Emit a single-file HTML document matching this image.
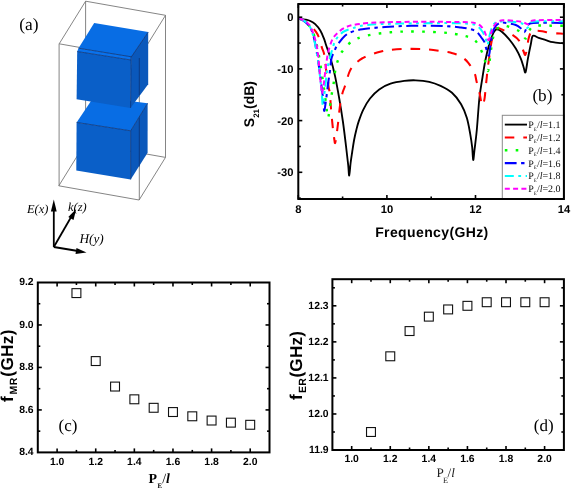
<!DOCTYPE html>
<html><head><meta charset="utf-8">
<style>
html,body{margin:0;padding:0;background:#fff;}
body{width:571px;height:489px;overflow:hidden;}
svg{display:block;will-change:transform;text-rendering:geometricPrecision;}
.sans{font-family:"Liberation Sans",sans-serif;font-weight:bold;}
.serif{font-family:"Liberation Serif",serif;}
.lg{font-family:"Liberation Serif",serif;font-size:10px;fill:#111;}
.sub{font-size:5px;}
</style></head>
<body>
<svg width="571" height="489" viewBox="0 0 571 489">
<rect width="571" height="489" fill="#fff"/>
<!-- Panel a -->
<g id="pa">
  <text x="19.2" y="30" class="serif" font-size="17.4">(a)</text>
  <!-- frame (all edges, drawn behind cubes) -->
  <g stroke="#777" stroke-width="0.9" fill="none">
    <polyline points="59.2,43.8 85.6,1.2 165.5,15.3 139.1,57.9 59.2,43.8"/>
    <line x1="85.6" y1="1.2" x2="85.6" y2="143.2"/>
    <polyline points="58.8,185.8 85.2,143.2 165.5,157.4 139.1,200 58.8,185.8"/>
    <line x1="165.5" y1="15.3" x2="165.5" y2="157.4"/>
    <line x1="59.1" y1="43.8" x2="59.1" y2="185.8"/>
    <line x1="139.3" y1="57.9" x2="139.3" y2="200"/>
  </g>
  <!-- bottom cube -->
  <polygon points="94,96.4 147.6,103.3 130.7,130.8 76.6,122.4" fill="#086de4"/>
  <polygon points="130.7,130.8 147.6,103.3 147.6,152.8 130.7,179.4" fill="#0a58bb"/>
  <polygon points="76.6,122.4 130.7,130.8 130.7,179.4 76.3,170.4" fill="#0a5fc8"/>
  <!-- top cube -->
  <polygon points="94.2,22.9 148.2,32.1 131.4,56.8 78.5,48.2" fill="#086de4"/>
  <polygon points="78.5,48.2 131.4,56.8 131,60 77.2,51.5" fill="#0a72ec"/>
  <polygon points="131.2,56.8 148.2,32.1 148.2,84.3 130.5,107.9" fill="#0a58bb"/>
  <polygon points="77.2,51.5 131,60 130.5,107.9 76.6,99.2" fill="#0a5fc8"/>
  <g stroke="#0a3478" stroke-width="0.8" fill="none">
    <line x1="78.5" y1="48.2" x2="131.4" y2="56.8"/>
    <line x1="77.2" y1="51.5" x2="131" y2="60"/>
    <line x1="131.1" y1="56.8" x2="130.6" y2="107.9"/>
    <line x1="131.4" y1="56.8" x2="148.2" y2="32.1"/>
    <line x1="76.6" y1="122.4" x2="130.7" y2="130.8"/>
    <line x1="130.7" y1="130.8" x2="147.6" y2="103.3"/>
    <line x1="130.7" y1="130.8" x2="130.7" y2="179.4"/>
    <line x1="139.3" y1="58" x2="139.3" y2="95"/>
    <line x1="139.3" y1="117.5" x2="139.3" y2="166.5"/>
  </g>
  <!-- axes arrows -->
  <g stroke="#000" stroke-width="1.8" fill="none">
    <line x1="53.8" y1="247" x2="53.8" y2="208"/>
    <line x1="53.8" y1="247" x2="72" y2="215.5"/>
    <line x1="53.8" y1="247" x2="78" y2="251"/>
  </g>
  <polygon points="53.8,199.6 50.9,211.5 56.7,211.5" fill="#000"/>
  <polygon points="76.2,209 68.3,217 73.5,220" fill="#000"/>
  <polygon points="86.5,252.6 76.5,248 75.5,254" fill="#000"/>
  <text x="27" y="213" class="serif" font-style="italic" font-size="12.4">E(x)</text>
  <text x="68" y="211.2" class="serif" font-style="italic" font-size="12.4">k(z)</text>
  <text x="79.4" y="242.8" class="serif" font-style="italic" font-size="13.3">H(y)</text>
</g>

<!-- Panel b -->
<g id="pb">
  <defs><clipPath id="cb"><rect x="299.3" y="4.8" width="263.6" height="192.8"/></clipPath></defs>
  <g clip-path="url(#cb)">
<path d="M299.00,18.60 C300.07,18.77 303.52,19.20 305.40,19.60 C307.28,20.00 308.67,20.25 310.30,21.00 C311.93,21.75 313.53,22.52 315.20,24.10 C316.87,25.68 318.87,28.15 320.30,30.50 C321.73,32.85 322.80,35.65 323.80,38.20 C324.80,40.75 325.15,42.38 326.30,45.80 C327.45,49.22 329.25,53.68 330.70,58.70 C332.15,63.72 333.57,69.20 335.00,75.90 C336.43,82.60 337.98,91.30 339.30,98.90 C340.62,106.50 341.78,113.65 342.90,121.50 C344.02,129.35 345.12,138.75 346.00,146.00 C346.88,153.25 347.67,160.07 348.20,165.00 C348.73,169.93 348.80,175.93 349.20,175.60 C349.60,175.27 350.10,166.93 350.60,163.00 C351.10,159.07 351.62,155.83 352.20,152.00 C352.78,148.17 353.42,143.67 354.10,140.00 C354.78,136.33 355.53,133.10 356.30,130.00 C357.07,126.90 357.55,124.77 358.70,121.40 C359.85,118.03 361.32,113.62 363.20,109.80 C365.08,105.98 367.33,101.90 370.00,98.50 C372.67,95.10 375.78,91.87 379.20,89.40 C382.62,86.93 386.33,85.12 390.50,83.70 C394.67,82.28 400.02,81.47 404.20,80.90 C408.38,80.33 411.43,80.15 415.60,80.30 C419.77,80.45 425.03,80.87 429.20,81.80 C433.37,82.73 436.80,84.07 440.60,85.90 C444.40,87.73 448.58,89.75 452.00,92.80 C455.42,95.85 458.63,100.03 461.10,104.20 C463.57,108.37 465.28,112.87 466.80,117.80 C468.32,122.73 469.30,128.87 470.20,133.80 C471.10,138.73 471.70,143.03 472.20,147.40 C472.70,151.77 472.82,159.57 473.20,160.00 C473.58,160.43 473.90,155.00 474.50,150.00 C475.10,145.00 475.98,138.67 476.80,130.00 C477.62,121.33 478.50,106.47 479.40,98.00 C480.30,89.53 481.22,85.42 482.20,79.20 C483.18,72.98 484.13,66.52 485.30,60.70 C486.47,54.88 488.03,48.50 489.20,44.30 C490.37,40.10 491.37,37.75 492.30,35.50 C493.23,33.25 494.02,31.82 494.80,30.80 C495.58,29.78 495.88,29.28 497.00,29.40 C498.12,29.52 499.57,29.97 501.50,31.50 C503.43,33.03 506.22,35.75 508.60,38.60 C510.98,41.45 513.77,45.25 515.80,48.60 C517.83,51.95 519.50,55.60 520.80,58.70 C522.10,61.80 522.82,64.93 523.60,67.20 C524.38,69.47 524.78,73.72 525.50,72.30 C526.22,70.88 527.02,63.37 527.90,58.70 C528.78,54.03 529.97,48.12 530.80,44.30 C531.63,40.48 531.58,36.87 532.90,35.80 C534.22,34.73 536.55,37.18 538.70,37.90 C540.85,38.62 543.42,39.38 545.80,40.10 C548.18,40.82 550.37,41.68 553.00,42.20 C555.63,42.72 559.85,43.02 561.60,43.20 C563.35,43.38 563.18,43.28 563.50,43.30" fill="none" stroke="#000" stroke-width="1.85" stroke-linejoin="round"/>
<path d="M299.00,18.60 C299.67,18.83 301.53,19.18 303.00,20.00 C304.47,20.82 306.30,22.33 307.80,23.50 C309.30,24.67 310.70,25.68 312.00,27.00 C313.30,28.32 314.52,29.82 315.60,31.40 C316.68,32.98 317.43,33.75 318.50,36.50 C319.57,39.25 321.05,44.92 322.00,47.90 C322.95,50.88 323.48,50.57 324.20,54.40 C324.92,58.23 325.70,67.55 326.30,70.90 C326.90,74.25 327.43,71.87 327.80,74.50 C328.17,77.13 328.15,83.60 328.50,86.70 C328.85,89.80 329.52,89.88 329.90,93.10 C330.28,96.32 330.42,101.25 330.80,106.00 C331.18,110.75 331.80,117.43 332.20,121.60 C332.60,125.77 332.87,128.18 333.20,131.00 C333.53,133.82 333.88,136.48 334.20,138.50 C334.52,140.52 334.73,143.52 335.10,143.10 C335.47,142.68 335.92,139.27 336.40,136.00 C336.88,132.73 337.38,128.70 338.00,123.50 C338.62,118.30 339.35,109.88 340.10,104.80 C340.85,99.72 341.80,95.80 342.50,93.00 C343.20,90.20 343.65,89.90 344.30,88.00 C344.95,86.10 345.62,84.10 346.40,81.60 C347.18,79.10 348.07,75.43 349.00,73.00 C349.93,70.57 350.95,68.58 352.00,67.00 C353.05,65.42 353.63,64.92 355.30,63.50 C356.97,62.08 359.38,59.97 362.00,58.50 C364.62,57.03 368.00,55.82 371.00,54.70 C374.00,53.58 376.78,52.60 380.00,51.80 C383.22,51.00 385.67,50.38 390.30,49.90 C394.93,49.42 401.68,48.98 407.80,48.90 C413.92,48.82 420.87,48.93 427.00,49.40 C433.13,49.87 440.60,51.13 444.60,51.70 C448.60,52.27 448.28,52.02 451.00,52.80 C453.72,53.58 458.02,54.73 460.90,56.40 C463.78,58.07 466.03,60.03 468.30,62.80 C470.57,65.57 473.13,69.93 474.50,73.00 C475.87,76.07 475.65,77.78 476.50,81.20 C477.35,84.62 478.88,90.37 479.60,93.50 C480.32,96.63 480.43,98.00 480.80,100.00 C481.17,102.00 481.35,105.00 481.80,105.50 C482.25,106.00 483.02,104.32 483.50,103.00 C483.98,101.68 484.33,100.20 484.70,97.60 C485.07,95.00 485.35,90.83 485.70,87.40 C486.05,83.97 486.45,80.40 486.80,77.00 C487.15,73.60 487.47,69.72 487.80,67.00 C488.13,64.28 488.35,63.87 488.80,60.70 C489.25,57.53 489.88,51.95 490.50,48.00 C491.12,44.05 491.83,39.83 492.50,37.00 C493.17,34.17 493.72,32.50 494.50,31.00 C495.28,29.50 495.78,28.17 497.20,28.00 C498.62,27.83 500.62,28.95 503.00,30.00 C505.38,31.05 508.78,32.50 511.50,34.30 C514.22,36.10 517.28,37.93 519.30,40.80 C521.32,43.67 522.62,49.13 523.60,51.50 C524.58,53.87 524.67,55.25 525.20,55.00 C525.73,54.75 526.23,52.73 526.80,50.00 C527.37,47.27 527.82,41.68 528.60,38.60 C529.38,35.52 530.27,32.80 531.50,31.50 C532.73,30.20 534.22,30.83 536.00,30.80 C537.78,30.77 539.85,30.95 542.20,31.30 C544.55,31.65 547.12,32.52 550.10,32.90 C553.08,33.28 557.87,33.47 560.10,33.60 C562.33,33.73 562.93,33.68 563.50,33.70" fill="none" stroke="#f00" stroke-width="2.05" stroke-dasharray="9.5 9" stroke-linejoin="round"/>
<path d="M299.00,18.60 C299.67,18.92 301.50,19.52 303.00,20.50 C304.50,21.48 306.50,22.92 308.00,24.50 C309.50,26.08 310.83,27.75 312.00,30.00 C313.17,32.25 314.08,35.00 315.00,38.00 C315.92,41.00 316.67,44.00 317.50,48.00 C318.33,52.00 319.17,57.00 320.00,62.00 C320.83,67.00 321.75,73.00 322.50,78.00 C323.25,83.00 323.87,87.33 324.50,92.00 C325.13,96.67 325.73,101.67 326.30,106.00 C326.87,110.33 327.37,117.33 327.90,118.00 C328.43,118.67 328.92,113.67 329.50,110.00 C330.08,106.33 330.73,100.25 331.40,96.00 C332.07,91.75 332.90,88.50 333.50,84.50 C334.10,80.50 334.37,75.73 335.00,72.00 C335.63,68.27 336.10,65.52 337.30,62.10 C338.50,58.68 339.78,54.93 342.20,51.50 C344.62,48.07 348.17,44.03 351.80,41.50 C355.43,38.97 358.47,37.75 364.00,36.30 C369.53,34.85 377.70,33.60 385.00,32.80 C392.30,32.00 398.47,31.57 407.80,31.50 C417.13,31.43 431.75,31.72 441.00,32.40 C450.25,33.08 457.63,34.25 463.30,35.60 C468.97,36.95 471.93,37.85 475.00,40.50 C478.07,43.15 480.03,48.08 481.70,51.50 C483.37,54.92 483.98,57.75 485.00,61.00 C486.02,64.25 487.05,70.83 487.80,71.00 C488.55,71.17 488.97,65.50 489.50,62.00 C490.03,58.50 490.42,54.00 491.00,50.00 C491.58,46.00 492.17,41.33 493.00,38.00 C493.83,34.67 494.83,31.83 496.00,30.00 C497.17,28.17 498.62,27.72 500.00,27.00 C501.38,26.28 502.47,25.62 504.30,25.70 C506.13,25.78 508.62,26.65 511.00,27.50 C513.38,28.35 516.68,29.72 518.60,30.80 C520.52,31.88 521.30,32.70 522.50,34.00 C523.70,35.30 524.72,39.10 525.80,38.60 C526.88,38.10 527.82,33.02 529.00,31.00 C530.18,28.98 531.05,27.42 532.90,26.50 C534.75,25.58 537.00,25.63 540.10,25.50 C543.20,25.37 547.60,25.67 551.50,25.70 C555.40,25.73 561.50,25.70 563.50,25.70" fill="none" stroke="#0f0" stroke-width="2.4" stroke-dasharray="2.6 8.3" stroke-linejoin="round"/>
<path d="M299.00,18.60 C299.67,18.92 301.50,19.52 303.00,20.50 C304.50,21.48 306.58,22.92 308.00,24.50 C309.42,26.08 310.50,27.75 311.50,30.00 C312.50,32.25 313.25,35.00 314.00,38.00 C314.75,41.00 315.33,44.33 316.00,48.00 C316.67,51.67 317.33,55.67 318.00,60.00 C318.67,64.33 319.33,69.00 320.00,74.00 C320.67,79.00 321.42,85.33 322.00,90.00 C322.58,94.67 323.12,98.53 323.50,102.00 C323.88,105.47 323.83,111.47 324.30,110.80 C324.77,110.13 325.63,102.80 326.30,98.00 C326.97,93.20 327.70,86.40 328.30,82.00 C328.90,77.60 329.38,75.48 329.90,71.60 C330.42,67.72 330.68,62.05 331.40,58.70 C332.12,55.35 333.13,53.90 334.20,51.50 C335.27,49.10 336.00,46.93 337.80,44.30 C339.60,41.67 342.67,37.77 345.00,35.70 C347.33,33.63 348.92,32.97 351.80,31.90 C354.68,30.83 356.77,30.12 362.30,29.30 C367.83,28.48 376.83,27.58 385.00,27.00 C393.17,26.42 401.37,25.95 411.30,25.80 C421.23,25.65 436.32,25.82 444.60,26.10 C452.88,26.38 456.77,27.02 461.00,27.50 C465.23,27.98 467.37,28.27 470.00,29.00 C472.63,29.73 474.85,30.40 476.80,31.90 C478.75,33.40 480.47,36.37 481.70,38.00 C482.93,39.63 483.48,40.05 484.20,41.70 C484.92,43.35 485.23,45.58 486.00,47.90 C486.77,50.22 488.05,56.08 488.80,55.60 C489.55,55.12 489.88,48.77 490.50,45.00 C491.12,41.23 491.75,36.00 492.50,33.00 C493.25,30.00 494.08,28.50 495.00,27.00 C495.92,25.50 496.92,24.73 498.00,24.00 C499.08,23.27 499.83,22.73 501.50,22.60 C503.17,22.47 505.62,22.80 508.00,23.20 C510.38,23.60 513.72,24.20 515.80,25.00 C517.88,25.80 519.08,26.80 520.50,28.00 C521.92,29.20 523.22,32.37 524.30,32.20 C525.38,32.03 526.03,28.43 527.00,27.00 C527.97,25.57 527.93,24.30 530.10,23.60 C532.27,22.90 534.75,22.92 540.00,22.80 C545.25,22.68 557.68,22.88 561.60,22.90 C565.52,22.92 563.18,22.90 563.50,22.90" fill="none" stroke="#00f" stroke-width="2.05" stroke-dasharray="11.8 4.5 3.4 4.5" stroke-linejoin="round"/>
<path d="M299.00,18.60 C299.67,18.83 301.50,19.10 303.00,20.00 C304.50,20.90 306.67,22.50 308.00,24.00 C309.33,25.50 310.08,26.83 311.00,29.00 C311.92,31.17 312.75,34.17 313.50,37.00 C314.25,39.83 314.83,42.67 315.50,46.00 C316.17,49.33 316.83,52.67 317.50,57.00 C318.17,61.33 318.83,66.50 319.50,72.00 C320.17,77.50 320.93,84.48 321.50,90.00 C322.07,95.52 322.32,105.43 322.90,105.10 C323.48,104.77 324.32,93.52 325.00,88.00 C325.68,82.48 326.30,76.65 327.00,72.00 C327.70,67.35 328.35,63.75 329.20,60.10 C330.05,56.45 331.02,53.45 332.10,50.10 C333.18,46.75 333.92,42.98 335.70,40.00 C337.48,37.02 340.08,34.13 342.80,32.20 C345.52,30.27 347.88,29.62 352.00,28.40 C356.12,27.18 359.50,25.70 367.50,24.90 C375.50,24.10 386.58,23.90 400.00,23.60 C413.42,23.30 436.33,23.05 448.00,23.10 C459.67,23.15 465.17,23.42 470.00,23.90 C474.83,24.38 475.00,24.82 477.00,26.00 C479.00,27.18 480.58,29.00 482.00,31.00 C483.42,33.00 484.58,35.67 485.50,38.00 C486.42,40.33 486.83,45.33 487.50,45.00 C488.17,44.67 488.75,38.92 489.50,36.00 C490.25,33.08 491.08,29.67 492.00,27.50 C492.92,25.33 493.67,24.00 495.00,23.00 C496.33,22.00 497.17,21.70 500.00,21.50 C502.83,21.30 508.33,21.47 512.00,21.80 C515.67,22.13 519.47,22.48 522.00,23.50 C524.53,24.52 525.87,27.90 527.20,27.90 C528.53,27.90 528.70,24.57 530.00,23.50 C531.30,22.43 529.73,21.88 535.00,21.50 C540.27,21.12 556.85,21.25 561.60,21.20 C566.35,21.15 563.18,21.20 563.50,21.20" fill="none" stroke="#0ff" stroke-width="2.05" stroke-dasharray="9 4.5 2.8 4.5 2.8 4.5" stroke-linejoin="round"/>
<path d="M299.00,18.60 C299.65,18.80 301.57,19.15 302.90,19.80 C304.23,20.45 305.77,21.47 307.00,22.50 C308.23,23.53 309.35,24.42 310.30,26.00 C311.25,27.58 312.05,30.33 312.70,32.00 C313.35,33.67 313.68,34.33 314.20,36.00 C314.72,37.67 315.22,39.42 315.80,42.00 C316.38,44.58 317.13,47.28 317.70,51.50 C318.27,55.72 318.75,62.55 319.20,67.30 C319.65,72.05 320.05,76.55 320.40,80.00 C320.75,83.45 321.05,85.73 321.30,88.00 C321.55,90.27 321.53,93.93 321.90,93.60 C322.27,93.27 323.00,89.18 323.50,86.00 C324.00,82.82 324.40,78.50 324.90,74.50 C325.40,70.50 325.90,65.95 326.50,62.00 C327.10,58.05 327.45,54.70 328.50,50.80 C329.55,46.90 331.00,41.83 332.80,38.60 C334.60,35.37 337.12,33.30 339.30,31.40 C341.48,29.50 343.53,28.28 345.90,27.20 C348.27,26.12 349.90,25.58 353.50,24.90 C357.10,24.22 362.25,23.53 367.50,23.10 C372.75,22.67 376.25,22.53 385.00,22.30 C393.75,22.07 409.50,21.77 420.00,21.70 C430.50,21.63 439.67,21.80 448.00,21.90 C456.33,22.00 465.33,22.03 470.00,22.30 C474.67,22.57 474.25,22.92 476.00,23.50 C477.75,24.08 479.13,24.60 480.50,25.80 C481.87,27.00 483.18,28.87 484.20,30.70 C485.22,32.53 485.83,35.25 486.60,36.80 C487.37,38.35 488.10,40.47 488.80,40.00 C489.50,39.53 490.13,35.97 490.80,34.00 C491.47,32.03 491.87,30.08 492.80,28.20 C493.73,26.32 494.72,24.02 496.40,22.70 C498.08,21.38 499.80,20.58 502.90,20.30 C506.00,20.02 511.67,20.68 515.00,21.00 C518.33,21.32 520.75,21.65 522.90,22.20 C525.05,22.75 526.55,24.42 527.90,24.30 C529.25,24.18 529.82,22.17 531.00,21.50 C532.18,20.83 529.90,20.55 535.00,20.30 C540.10,20.05 556.85,20.05 561.60,20.00 C566.35,19.95 563.18,20.00 563.50,20.00" fill="none" stroke="#f0f" stroke-width="2.0" stroke-dasharray="5 3.3" stroke-linejoin="round"/>

  </g>
  <g stroke="#000" stroke-width="1.6"><line x1="298.30" y1="199.00" x2="298.30" y2="195.00"/><line x1="298.30" y1="4.00" x2="298.30" y2="8.00"/><line x1="342.60" y1="199.00" x2="342.60" y2="196.50"/><line x1="342.60" y1="4.00" x2="342.60" y2="6.50"/><line x1="386.90" y1="199.00" x2="386.90" y2="195.00"/><line x1="386.90" y1="4.00" x2="386.90" y2="8.00"/><line x1="431.20" y1="199.00" x2="431.20" y2="196.50"/><line x1="431.20" y1="4.00" x2="431.20" y2="6.50"/><line x1="475.50" y1="199.00" x2="475.50" y2="195.00"/><line x1="475.50" y1="4.00" x2="475.50" y2="8.00"/><line x1="519.80" y1="199.00" x2="519.80" y2="196.50"/><line x1="519.80" y1="4.00" x2="519.80" y2="6.50"/><line x1="564.10" y1="199.00" x2="564.10" y2="195.00"/><line x1="564.10" y1="4.00" x2="564.10" y2="8.00"/><line x1="298.30" y1="17.20" x2="302.30" y2="17.20"/><line x1="563.90" y1="17.20" x2="559.90" y2="17.20"/><line x1="298.30" y1="43.05" x2="300.80" y2="43.05"/><line x1="563.90" y1="43.05" x2="561.40" y2="43.05"/><line x1="298.30" y1="68.90" x2="302.30" y2="68.90"/><line x1="563.90" y1="68.90" x2="559.90" y2="68.90"/><line x1="298.30" y1="94.75" x2="300.80" y2="94.75"/><line x1="563.90" y1="94.75" x2="561.40" y2="94.75"/><line x1="298.30" y1="120.60" x2="302.30" y2="120.60"/><line x1="563.90" y1="120.60" x2="559.90" y2="120.60"/><line x1="298.30" y1="146.45" x2="300.80" y2="146.45"/><line x1="563.90" y1="146.45" x2="561.40" y2="146.45"/><line x1="298.30" y1="172.30" x2="302.30" y2="172.30"/><line x1="563.90" y1="172.30" x2="559.90" y2="172.30"/><line x1="298.30" y1="198.15" x2="300.80" y2="198.15"/><line x1="563.90" y1="198.15" x2="561.40" y2="198.15"/></g>
  <rect x="502.3" y="115.3" width="62" height="84" fill="#fff" stroke="#8a8a8a" stroke-width="1"/><line x1="504.8" y1="124.60" x2="527" y2="124.60" fill="none" stroke="#000" stroke-width="1.85"/><text x="528.3" y="128.00" class="lg">P<tspan class="sub" dy="2.6">E</tspan><tspan dy="-2.6">/</tspan><tspan font-style="italic">l</tspan>=1.1</text><line x1="504.8" y1="137.40" x2="527" y2="137.40" fill="none" stroke="#f00" stroke-width="2.05" stroke-dasharray="9.5 9"/><text x="528.3" y="140.80" class="lg">P<tspan class="sub" dy="2.6">E</tspan><tspan dy="-2.6">/</tspan><tspan font-style="italic">l</tspan>=1.2</text><line x1="504.8" y1="150.30" x2="519" y2="150.30" fill="none" stroke="#0f0" stroke-width="2.4" stroke-dasharray="2.6 8.3"/><text x="528.3" y="153.70" class="lg">P<tspan class="sub" dy="2.6">E</tspan><tspan dy="-2.6">/</tspan><tspan font-style="italic">l</tspan>=1.4</text><line x1="504.8" y1="163.10" x2="527" y2="163.10" fill="none" stroke="#00f" stroke-width="2.05" stroke-dasharray="11.8 4.5 3.4 4.5"/><text x="528.3" y="166.50" class="lg">P<tspan class="sub" dy="2.6">E</tspan><tspan dy="-2.6">/</tspan><tspan font-style="italic">l</tspan>=1.6</text><line x1="504.8" y1="175.90" x2="527" y2="175.90" fill="none" stroke="#0ff" stroke-width="2.05" stroke-dasharray="9 4.5 2.8 4.5 2.8 4.5"/><text x="528.3" y="179.30" class="lg">P<tspan class="sub" dy="2.6">E</tspan><tspan dy="-2.6">/</tspan><tspan font-style="italic">l</tspan>=1.8</text><line x1="504.8" y1="188.70" x2="527" y2="188.70" fill="none" stroke="#f0f" stroke-width="2.0" stroke-dasharray="5 3.3"/><text x="528.3" y="192.10" class="lg">P<tspan class="sub" dy="2.6">E</tspan><tspan dy="-2.6">/</tspan><tspan font-style="italic">l</tspan>=2.0</text>
  <rect x="298.3" y="4" width="265.6" height="195" fill="none" stroke="#000" stroke-width="2"/>
  <g class="sans" font-size="11.2" fill="#000"><text x="298.30" y="213.2" text-anchor="middle">8</text><text x="386.90" y="213.2" text-anchor="middle">10</text><text x="475.50" y="213.2" text-anchor="middle">12</text><text x="564.10" y="213.2" text-anchor="middle">14</text><text x="293.5" y="21.30" text-anchor="end">0</text><text x="293.5" y="73.00" text-anchor="end">-10</text><text x="293.5" y="124.70" text-anchor="end">-20</text><text x="293.5" y="176.40" text-anchor="end">-30</text></g>
  <text x="375.2" y="236.8" class="sans" font-size="14" letter-spacing="0.38">Frequency(GHz)</text>
  <text transform="translate(253.6,127.2) rotate(-90)" class="sans" font-size="14">S<tspan font-size="8" dy="5.2">21</tspan><tspan dy="-5.2">(dB)</tspan></text>
  <text x="532.4" y="101.2" class="serif" font-size="17.2">(b)</text>
</g>

<!-- Panel c -->
<g id="pc">
  <g stroke="#000" stroke-width="1.6"><line x1="57.11" y1="452.40" x2="57.11" y2="448.40"/><line x1="57.11" y1="282.48" x2="57.11" y2="286.48"/><line x1="76.42" y1="452.40" x2="76.42" y2="449.90"/><line x1="76.42" y1="282.48" x2="76.42" y2="284.98"/><line x1="95.73" y1="452.40" x2="95.73" y2="448.40"/><line x1="95.73" y1="282.48" x2="95.73" y2="286.48"/><line x1="115.04" y1="452.40" x2="115.04" y2="449.90"/><line x1="115.04" y1="282.48" x2="115.04" y2="284.98"/><line x1="134.35" y1="452.40" x2="134.35" y2="448.40"/><line x1="134.35" y1="282.48" x2="134.35" y2="286.48"/><line x1="153.66" y1="452.40" x2="153.66" y2="449.90"/><line x1="153.66" y1="282.48" x2="153.66" y2="284.98"/><line x1="172.97" y1="452.40" x2="172.97" y2="448.40"/><line x1="172.97" y1="282.48" x2="172.97" y2="286.48"/><line x1="192.28" y1="452.40" x2="192.28" y2="449.90"/><line x1="192.28" y1="282.48" x2="192.28" y2="284.98"/><line x1="211.59" y1="452.40" x2="211.59" y2="448.40"/><line x1="211.59" y1="282.48" x2="211.59" y2="286.48"/><line x1="230.90" y1="452.40" x2="230.90" y2="449.90"/><line x1="230.90" y1="282.48" x2="230.90" y2="284.98"/><line x1="250.21" y1="452.40" x2="250.21" y2="448.40"/><line x1="250.21" y1="282.48" x2="250.21" y2="286.48"/><line x1="37.80" y1="431.16" x2="40.30" y2="431.16"/><line x1="269.52" y1="431.16" x2="267.02" y2="431.16"/><line x1="37.80" y1="409.92" x2="41.80" y2="409.92"/><line x1="269.52" y1="409.92" x2="265.52" y2="409.92"/><line x1="37.80" y1="388.68" x2="40.30" y2="388.68"/><line x1="269.52" y1="388.68" x2="267.02" y2="388.68"/><line x1="37.80" y1="367.44" x2="41.80" y2="367.44"/><line x1="269.52" y1="367.44" x2="265.52" y2="367.44"/><line x1="37.80" y1="346.20" x2="40.30" y2="346.20"/><line x1="269.52" y1="346.20" x2="267.02" y2="346.20"/><line x1="37.80" y1="324.96" x2="41.80" y2="324.96"/><line x1="269.52" y1="324.96" x2="265.52" y2="324.96"/><line x1="37.80" y1="303.72" x2="40.30" y2="303.72"/><line x1="269.52" y1="303.72" x2="267.02" y2="303.72"/></g>
  <rect x="37.8" y="282.5" width="231.7" height="169.9" fill="none" stroke="#000" stroke-width="2"/>
  <g fill="none" stroke="#111" stroke-width="1.1"><rect x="71.97" y="288.65" width="8.9" height="8.9"/><rect x="91.28" y="356.62" width="8.9" height="8.9"/><rect x="110.59" y="382.11" width="8.9" height="8.9"/><rect x="129.90" y="394.85" width="8.9" height="8.9"/><rect x="149.21" y="403.35" width="8.9" height="8.9"/><rect x="168.52" y="407.59" width="8.9" height="8.9"/><rect x="187.83" y="411.84" width="8.9" height="8.9"/><rect x="207.14" y="416.09" width="8.9" height="8.9"/><rect x="226.45" y="418.21" width="8.9" height="8.9"/><rect x="245.76" y="420.34" width="8.9" height="8.9"/></g>
  <g class="sans" font-size="10.4" fill="#000"><text x="57.11" y="465" text-anchor="middle">1.0</text><text x="95.73" y="465" text-anchor="middle">1.2</text><text x="134.35" y="465" text-anchor="middle">1.4</text><text x="172.97" y="465" text-anchor="middle">1.6</text><text x="211.59" y="465" text-anchor="middle">1.8</text><text x="250.21" y="465" text-anchor="middle">2.0</text><text x="33.6" y="455.20" text-anchor="end">8.4</text><text x="33.6" y="412.72" text-anchor="end">8.6</text><text x="33.6" y="370.24" text-anchor="end">8.8</text><text x="33.6" y="327.76" text-anchor="end">9.0</text><text x="33.6" y="285.28" text-anchor="end">9.2</text></g>
  <text x="148.6" y="482.5" class="serif" font-weight="bold" font-size="13.9">P<tspan font-size="6.8" dy="5.1" dx="0.5">E</tspan><tspan dy="-5.1" font-weight="normal">/</tspan><tspan font-style="italic">l</tspan></text>
  <text transform="translate(13.4,402) rotate(-90)" class="sans" font-size="17.2" letter-spacing="0.3">f<tspan font-size="10.5" dy="4" dx="1.6">MR</tspan><tspan dy="-4" dx="0.8">(GHz)</tspan></text>
  <text x="58.5" y="430.8" class="serif" font-size="17">(c)</text>
</g>

<!-- Panel d -->
<g id="pd">
  <g stroke="#000" stroke-width="1.6"><line x1="351.69" y1="450.00" x2="351.69" y2="446.00"/><line x1="351.69" y1="279.20" x2="351.69" y2="283.20"/><line x1="370.98" y1="450.00" x2="370.98" y2="447.50"/><line x1="370.98" y1="279.20" x2="370.98" y2="281.70"/><line x1="390.27" y1="450.00" x2="390.27" y2="446.00"/><line x1="390.27" y1="279.20" x2="390.27" y2="283.20"/><line x1="409.56" y1="450.00" x2="409.56" y2="447.50"/><line x1="409.56" y1="279.20" x2="409.56" y2="281.70"/><line x1="428.85" y1="450.00" x2="428.85" y2="446.00"/><line x1="428.85" y1="279.20" x2="428.85" y2="283.20"/><line x1="448.14" y1="450.00" x2="448.14" y2="447.50"/><line x1="448.14" y1="279.20" x2="448.14" y2="281.70"/><line x1="467.43" y1="450.00" x2="467.43" y2="446.00"/><line x1="467.43" y1="279.20" x2="467.43" y2="283.20"/><line x1="486.72" y1="450.00" x2="486.72" y2="447.50"/><line x1="486.72" y1="279.20" x2="486.72" y2="281.70"/><line x1="506.01" y1="450.00" x2="506.01" y2="446.00"/><line x1="506.01" y1="279.20" x2="506.01" y2="283.20"/><line x1="525.30" y1="450.00" x2="525.30" y2="447.50"/><line x1="525.30" y1="279.20" x2="525.30" y2="281.70"/><line x1="544.59" y1="450.00" x2="544.59" y2="446.00"/><line x1="544.59" y1="279.20" x2="544.59" y2="283.20"/><line x1="332.40" y1="432.00" x2="334.90" y2="432.00"/><line x1="563.88" y1="432.00" x2="561.38" y2="432.00"/><line x1="332.40" y1="413.97" x2="336.40" y2="413.97"/><line x1="563.88" y1="413.97" x2="559.88" y2="413.97"/><line x1="332.40" y1="395.95" x2="334.90" y2="395.95"/><line x1="563.88" y1="395.95" x2="561.38" y2="395.95"/><line x1="332.40" y1="377.92" x2="336.40" y2="377.92"/><line x1="563.88" y1="377.92" x2="559.88" y2="377.92"/><line x1="332.40" y1="359.90" x2="334.90" y2="359.90"/><line x1="563.88" y1="359.90" x2="561.38" y2="359.90"/><line x1="332.40" y1="341.87" x2="336.40" y2="341.87"/><line x1="563.88" y1="341.87" x2="559.88" y2="341.87"/><line x1="332.40" y1="323.85" x2="334.90" y2="323.85"/><line x1="563.88" y1="323.85" x2="561.38" y2="323.85"/><line x1="332.40" y1="305.82" x2="336.40" y2="305.82"/><line x1="563.88" y1="305.82" x2="559.88" y2="305.82"/><line x1="332.40" y1="287.80" x2="334.90" y2="287.80"/><line x1="563.88" y1="287.80" x2="561.38" y2="287.80"/></g>
  <rect x="332.4" y="279.2" width="231.5" height="170.8" fill="none" stroke="#000" stroke-width="2"/>
  <g fill="none" stroke="#111" stroke-width="1.1"><rect x="366.53" y="427.55" width="8.9" height="8.9"/><rect x="385.82" y="351.84" width="8.9" height="8.9"/><rect x="405.11" y="326.61" width="8.9" height="8.9"/><rect x="424.40" y="312.19" width="8.9" height="8.9"/><rect x="443.69" y="304.98" width="8.9" height="8.9"/><rect x="462.98" y="301.37" width="8.9" height="8.9"/><rect x="482.27" y="297.77" width="8.9" height="8.9"/><rect x="501.56" y="297.77" width="8.9" height="8.9"/><rect x="520.85" y="297.77" width="8.9" height="8.9"/><rect x="540.14" y="297.77" width="8.9" height="8.9"/></g>
  <g class="sans" font-size="10.4" fill="#000"><text x="351.69" y="461.9" text-anchor="middle">1.0</text><text x="390.27" y="461.9" text-anchor="middle">1.2</text><text x="428.85" y="461.9" text-anchor="middle">1.4</text><text x="467.43" y="461.9" text-anchor="middle">1.6</text><text x="506.01" y="461.9" text-anchor="middle">1.8</text><text x="544.59" y="461.9" text-anchor="middle">2.0</text><text x="328.6" y="453.32" text-anchor="end">11.9</text><text x="328.6" y="417.27" text-anchor="end">12.0</text><text x="328.6" y="381.22" text-anchor="end">12.1</text><text x="328.6" y="345.18" text-anchor="end">12.2</text><text x="328.6" y="309.12" text-anchor="end">12.3</text></g>
  <text x="436.5" y="477" class="serif" font-size="13.1" fill="#222">P<tspan font-size="8.2" dy="6.3" dx="-0.9">E</tspan><tspan dy="-6.3" dx="-0.3">/</tspan><tspan font-style="italic">l</tspan></text>
  <text transform="translate(301.5,400) rotate(-90)" class="sans" font-size="17.2" letter-spacing="0.2">f<tspan font-size="10.5" dy="4" dx="1">ER</tspan><tspan dy="-4" dx="0.5">(GHz)</tspan></text>
  <text x="533.8" y="430.5" class="serif" font-size="17">(d)</text>
</g>
</svg>
</body></html>
